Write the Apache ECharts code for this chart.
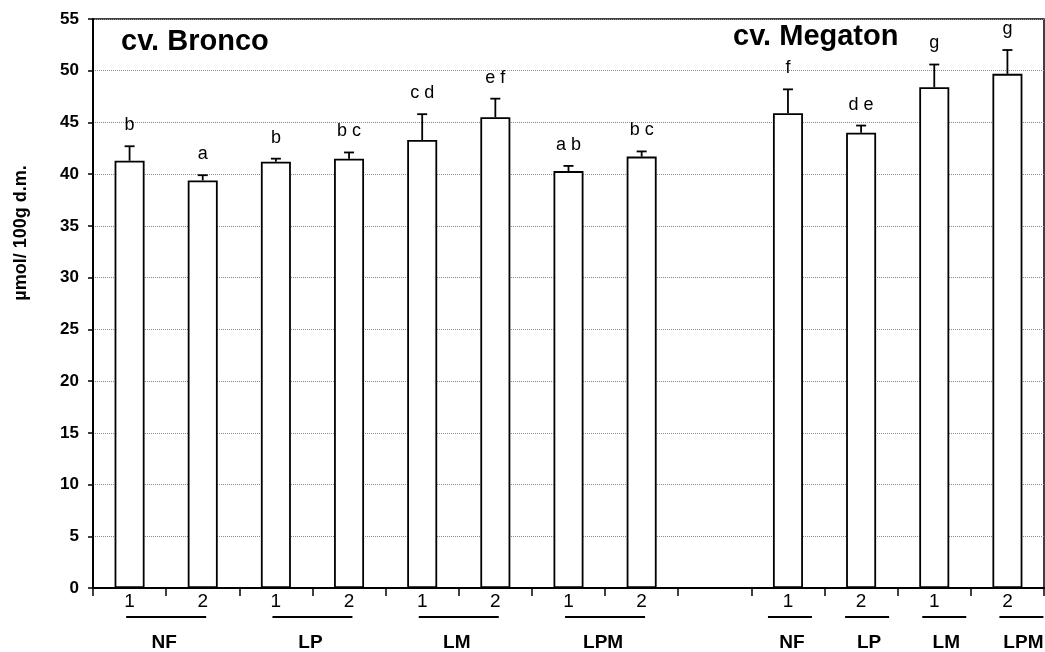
<!DOCTYPE html>
<html>
<head>
<meta charset="utf-8">
<script src="https://cdn.jsdelivr.net/npm/echarts@6/dist/echarts.min.js"></script>
<style>
html,body{margin:0;padding:0;background:#fff;}
#chart{width:1045px;height:652px;}
</style>
</head>
<body>
<div id="chart"></div>
<script>
// ---- data ----
const categories = ['1','2','1','2','1','2','1','2','','1','2','1','2'];
const means  = [41.3, 39.4, 41.2, 41.5, 43.3, 45.5, 40.3, 41.7, null, 45.9, 44.0, 48.4, 49.7];
const errors = [1.4, 0.5, 0.3, 0.6, 2.5, 1.8, 0.5, 0.5, null, 2.3, 0.7, 2.2, 2.3];
const letters = ['b','a','b','b c','c d','e f','a b','b c','','f','d e','g','g'];
const groupNames = ['NF','LP','LM','LPM','NF','LP','LM','LPM'];
const groupFirst = [0, 2, 4, 6, 9, 10, 11, 12];
const groupLast  = [1, 3, 5, 7, 9, 10, 11, 12];
const cultivars = ['cv. Bronco', 'cv. Megaton'];
const yTitle = 'µmol/ 100g d.m.';

const FONT = '"Liberation Sans", Arial, Helvetica, sans-serif';
const chart = echarts.init(document.getElementById('chart'));

const barData = means.map(v => v == null ? '-' : v);
const errData = [];
means.forEach((m, i) => { if (m != null) errData.push([i, m, errors[i]]); });

chart.setOption({
  animation: false,
  backgroundColor: '#fff',
  grid: { left: 93, right: 1, top: 19, bottom: 64, show: true, borderColor: '#000', borderWidth: 1.5, backgroundColor: 'transparent' },
  xAxis: {
    type: 'category',
    data: categories,
    axisLine: { show: true, lineStyle: { color: '#000', width: 2 } },
    axisTick: { show: true, interval: 0, length: 8, lineStyle: { color: '#000', width: 1.5 } },
    axisLabel: { interval: 0, fontSize: 19, color: '#000', fontFamily: FONT, margin: 4 },
    splitLine: { show: false }
  },
  yAxis: {
    type: 'value', min: 0, max: 55, interval: 5,
    axisLine: { show: true, lineStyle: { color: '#000', width: 2 } },
    axisTick: { show: true, length: 5, lineStyle: { color: '#000', width: 1.5 } },
    axisLabel: { fontSize: 17, fontWeight: 'bold', color: '#000', fontFamily: FONT, margin: 14 },
    splitLine: { show: true, lineStyle: { color: '#8a8a8a', width: 1, type: [1, 1] } }
  },
  series: [
    {
      type: 'bar', data: barData, barWidth: 30,
      itemStyle: { color: '#fff', borderColor: '#000', borderWidth: 1.8 },
      z: 2
    },
    {
      type: 'custom', data: errData, z: 3,
      renderItem: function (params, api) {
        const idx = api.value(0);
        const base = api.coord([idx, api.value(1)]);
        const top = api.coord([idx, api.value(1) + api.value(2)]);
        return {
          type: 'group',
          children: [
            { type: 'line', shape: { x1: base[0], y1: base[1], x2: base[0], y2: top[1] }, style: { stroke: '#000', lineWidth: 1.8 } },
            { type: 'line', shape: { x1: base[0] - 5, y1: top[1], x2: base[0] + 5, y2: top[1] }, style: { stroke: '#000', lineWidth: 1.8 } },
            { type: 'text', x: base[0], y: top[1] - 21, style: { text: letters[idx], align: 'center', verticalAlign: 'middle', font: '18px ' + FONT, fill: '#000' } }
          ]
        };
      }
    }
  ]
});

// ---- annotations placed from the axis scale ----
const cx = i => chart.convertToPixel({ xAxisIndex: 0 }, i);
const graphics = [];
groupNames.forEach((name, g) => {
  const a = cx(groupFirst[g]), b = cx(groupLast[g]);
  const mid = (a + b) / 2;
  const single = groupFirst[g] === groupLast[g];
  const half = single ? 22 : 40;
  const shift = single ? 2 + (g - 4) * 4 : 0;
  graphics.push({ type: 'line', shape: { x1: mid + shift - half, y1: 617, x2: mid + shift + half, y2: 617 }, style: { stroke: '#000', lineWidth: 2 } });
  graphics.push({ type: 'text', x: single ? mid + shift + 2 : mid - 2, y: 643, style: { text: name, align: 'center', verticalAlign: 'middle', font: 'bold 19px ' + FONT, fill: '#000' } });
});
graphics.push({ type: 'text', x: 121, y: 42, style: { text: cultivars[0], align: 'left', verticalAlign: 'middle', font: 'bold 29px ' + FONT, fill: '#000' } });
graphics.push({ type: 'text', x: 733, y: 37, style: { text: cultivars[1], align: 'left', verticalAlign: 'middle', font: 'bold 29px ' + FONT, fill: '#000' } });
graphics.push({ type: 'text', x: 21, y: 233, rotation: Math.PI / 2, style: { text: yTitle, align: 'center', verticalAlign: 'middle', font: 'bold 18px ' + FONT, fill: '#000' } });
chart.setOption({ graphic: graphics });
</script>
</body>
</html>
